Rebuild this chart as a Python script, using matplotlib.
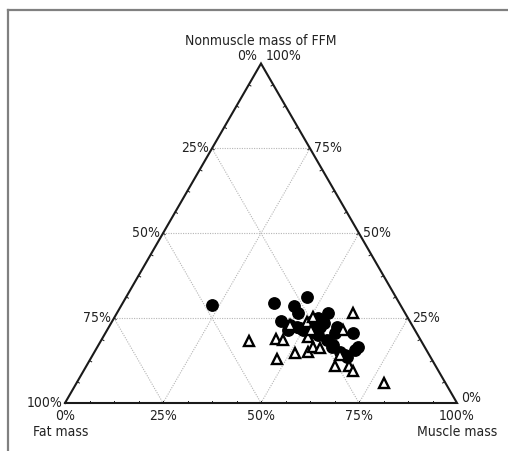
import numpy as np
import matplotlib
matplotlib.use("Agg")
import matplotlib.pyplot as plt
from matplotlib.lines import Line2D

plt.rcParams['font.family'] = ['DejaVu Sans']
plt.rcParams['font.stretch'] = 'condensed'

# composition in percent: fat mass, muscle mass, nonmuscle mass of FFM
circ_fat = [48.0, 32.0, 22.7, 27.2, 27.3, 19.6, 22.9, 32.3, 29.6, 28.5,
            31.1, 23.7, 22.3, 19.4, 20.9, 25.4, 23.9, 23.0, 16.2, 16.9,
            18.2, 21.5, 24.6, 21.3, 22.3, 23.7, 29.1, 25.5, 26.5, 32.8]
circ_muscle = [23.1, 38.6, 46.0, 44.2, 46.3, 54.0, 52.2, 46.2, 47.9, 50.0,
               45.9, 53.8, 54.2, 58.1, 58.6, 54.6, 57.5, 59.9, 63.3, 66.5,
               66.2, 64.4, 52.9, 65.1, 62.6, 59.7, 48.9, 50.6, 52.6, 43.0]
circ_nonmuscle = [28.9, 29.4, 31.3, 28.6, 26.4, 26.4, 24.9, 21.5, 22.5, 21.5,
                  23.0, 22.5, 23.5, 22.5, 20.5, 20.0, 18.6, 17.1, 20.5, 16.6,
                  15.6, 14.1, 22.5, 13.6, 15.1, 16.6, 22.0, 23.9, 20.9, 24.2]

tri_fat = [13.2, 43.8, 36.8, 35.2, 39.5, 34.0, 30.5, 28.4, 26.9, 28.2,
           26.4, 24.0, 26.6, 18.4, 22.8, 25.7, 22.0, 21.9, 15.7, 31.0]
tri_muscle = [60.2, 37.9, 44.3, 46.2, 47.6, 51.4, 54.4, 55.0, 57.0, 52.3,
              49.7, 50.6, 51.9, 60.1, 63.1, 63.4, 67.1, 68.6, 78.5, 46.0]
tri_nonmuscle = [26.6, 18.3, 18.9, 18.6, 12.9, 14.6, 15.1, 16.6, 16.1, 19.5,
                 23.9, 25.4, 21.5, 21.5, 14.1, 10.9, 10.9, 9.5, 5.8, 23.0]

grid_levels = [25, 50, 75]
S3 = np.sqrt(3) / 2


def to_xy(muscle, nonmuscle):
    m = np.asarray(muscle) / 100.0
    n = np.asarray(nonmuscle) / 100.0
    return m + n / 2, n * S3


fig = plt.figure(figsize=(5.08, 4.51), dpi=100)
ax = fig.add_axes([0, 0, 1, 1])
ax.set_xlim(-65 / 392, 443 / 392)
ax.set_ylim(-48 / 392, 403 / 392)
ax.axis('off')

# frame lines of the original figure box
fig.add_artist(Line2D([8 / 508, 1], [1 - 10 / 451, 1 - 10 / 451],
                      color='#808080', lw=1.6))
fig.add_artist(Line2D([8 / 508, 8 / 508], [0, 1 - 10 / 451],
                      color='#808080', lw=1.6))

# grid
gkw = dict(color='#b5b5b5', lw=0.8, ls=(0, (1, 1.2)), zorder=1)
for g in grid_levels:
    r = 100 - g
    x, y = to_xy([g, g], [0, r])      # constant muscle
    ax.plot(x, y, **gkw)
    x, y = to_xy([0, r], [g, g])      # constant nonmuscle
    ax.plot(x, y, **gkw)
    x, y = to_xy([0, r], [r, 0])      # constant fat
    ax.plot(x, y, **gkw)

# triangle outline
x, y = to_xy([0, 100, 0, 0], [0, 0, 100, 0])
ax.plot(x, y, color='#1a1a1a', lw=1.5, zorder=2, solid_joinstyle='miter')

# small ticks every 6.25 %
tl = 2.5 / 392
for k in np.arange(6.25, 100, 6.25):
    bx, by = to_xy(k, 0)
    ax.plot([bx, bx], [by, by + tl], color='#1a1a1a', lw=0.7, zorder=2)
    lx, ly = to_xy(0, k)
    ax.plot([lx, lx + tl * S3], [ly, ly - tl * 0.5], color='#1a1a1a', lw=0.7, zorder=2)
    rx, ry = to_xy(100 - k, k)
    ax.plot([rx, rx - tl * S3], [ry, ry - tl * 0.5], color='#1a1a1a', lw=0.7, zorder=2)

# data
cx, cy = to_xy(circ_muscle, circ_nonmuscle)
ax.plot(cx, cy, 'o', color='black', ms=8.2, mec='black', zorder=4)
tx, ty = to_xy(tri_muscle, tri_nonmuscle)
ax.plot(tx, ty, '^', mfc='white', mec='black', mew=1.7, ms=6.8, zorder=5)

fs = 10
tc = '#222222'
# bottom axis labels
for g in [0] + grid_levels + [100]:
    x, y = to_xy(g, 0)
    ax.text(x, y - 6 / 392, f"{g}%", ha='center', va='top', fontsize=fs, color=tc)
x, y = to_xy(0, 0)
ax.text(x - 4 / 392, y - 22 / 392, "Fat mass", ha='center', va='top', fontsize=fs, color=tc)
x, y = to_xy(100, 0)
ax.text(x, y - 22 / 392, "Muscle mass", ha='center', va='top', fontsize=fs, color=tc)

# left edge labels (fat mass)
for g in [100] + grid_levels[::-1]:
    x, y = to_xy(0, 100 - g)
    ax.text(x - 3 / 392, y, f"{g}%", ha='right', va='center', fontsize=fs, color=tc)
# right edge labels (nonmuscle)
for g in [0] + grid_levels:
    x, y = to_xy(100 - g, g)
    ax.text(x + 4 / 392, y + (5 / 392 if g == 0 else 0), f"{g}%", ha='left',
            va='center', fontsize=fs, color=tc)

# top vertex
x, y = to_xy(0, 100)
ax.text(x - 4 / 392, y + 1 / 392, "0%", ha='right', va='bottom', fontsize=fs, color=tc)
ax.text(x + 5 / 392, y + 1 / 392, "100%", ha='left', va='bottom', fontsize=fs, color=tc)
ax.text(x, y + 16 / 392, "Nonmuscle mass of FFM", ha='center', va='bottom',
        fontsize=fs, color=tc)

fig.savefig("out.png", dpi=100)
